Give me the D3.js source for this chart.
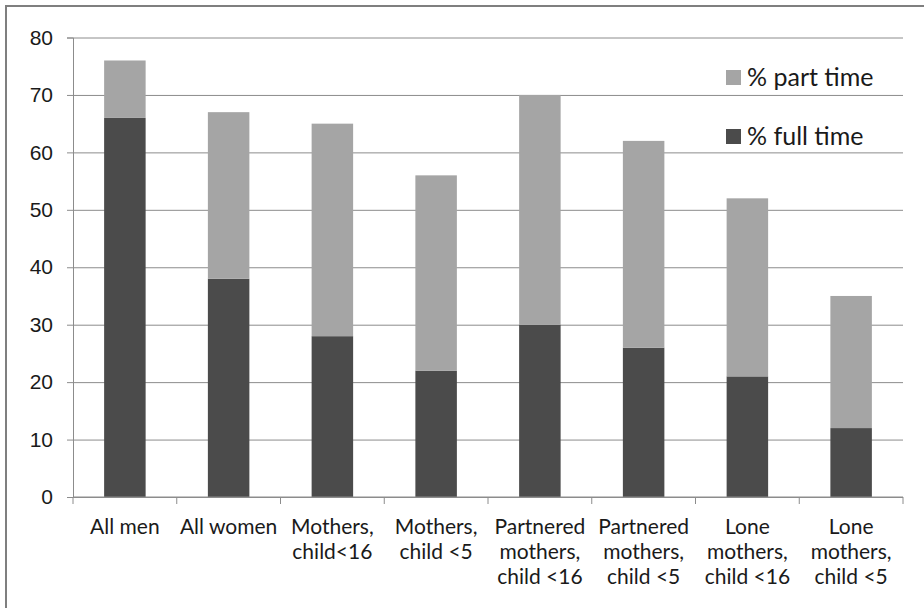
<!DOCTYPE html>
<html>
<head>
<meta charset="utf-8">
<script src="https://cdn.jsdelivr.net/npm/d3@7"></script>
<style>
  body { margin: 0; background: #fff; }
  svg { font-family: Lato, "Open Sans", sans-serif; }
</style>
</head>
<body>
<div id="chart"></div>
<script>
const categories = [
  ["All men"],
  ["All women"],
  ["Mothers,", "child<16"],
  ["Mothers,", "child <5"],
  ["Partnered", "mothers,", "child <16"],
  ["Partnered", "mothers,", "child <5"],
  ["Lone", "mothers,", "child <16"],
  ["Lone", "mothers,", "child <5"]
];
const fullTime = [66, 38, 28, 22, 30, 26, 21, 12];
const partTime = [10, 29, 37, 34, 40, 36, 31, 23];
const yTicks = [0, 10, 20, 30, 40, 50, 60, 70, 80];
const seriesNames = ["% part time", "% full time"];
const colors = { part: "#a5a5a5", full: "#4b4b4b" };

const width = 924, height = 608;
const margin = { top: 37.5, right: 21, bottom: 111, left: 73 };

const svg = d3.select("#chart").append("svg")
  .attr("width", width)
  .attr("height", height)
  .attr("viewBox", [0, 0, width, height]);

// outer frame
svg.append("rect")
  .attr("x", 6).attr("y", 6)
  .attr("width", width + 10).attr("height", height + 10)
  .attr("fill", "none")
  .attr("stroke", "#7f7f7f")
  .attr("stroke-width", 2);

const idx = d3.range(categories.length);

const x = d3.scaleBand()
  .domain(idx)
  .range([margin.left, width - margin.right])
  .paddingInner(0.6)
  .paddingOuter(0.3);

const xTick = d3.scaleBand()
  .domain(idx)
  .range([margin.left, width - margin.right])
  .padding(0);

const y = d3.scaleLinear()
  .domain([0, 80])
  .range([height - margin.bottom, margin.top]);

// gridlines + y ticks
const yAxis = g => g
  .attr("transform", `translate(${margin.left},0)`)
  .call(d3.axisLeft(y).tickValues(yTicks).tickSize(6).tickPadding(14))
  .call(g => g.select(".domain").attr("stroke", "#8c8c8c"))
  .call(g => g.selectAll(".tick line").attr("stroke", "#8c8c8c"))
  .call(g => g.selectAll(".tick").append("line")
      .attr("x2", width - margin.right - margin.left)
      .attr("stroke", "#8c8c8c"))
  .call(g => g.selectAll(".tick text")
      .attr("fill", "#1a1a1a")
      .style("font-size", "21px"));

svg.append("g").call(yAxis);

// stacked bars
const bars = svg.append("g");
bars.selectAll("rect.full")
  .data(idx)
  .join("rect")
  .attr("class", "full")
  .attr("x", i => x(i))
  .attr("width", x.bandwidth())
  .attr("y", i => y(fullTime[i]))
  .attr("height", i => y(0) - y(fullTime[i]))
  .attr("fill", colors.full);

bars.selectAll("rect.part")
  .data(idx)
  .join("rect")
  .attr("class", "part")
  .attr("x", i => x(i))
  .attr("width", x.bandwidth())
  .attr("y", i => y(fullTime[i] + partTime[i]))
  .attr("height", i => y(fullTime[i]) - y(fullTime[i] + partTime[i]))
  .attr("fill", colors.part);

// x axis
const xg = svg.append("g")
  .attr("transform", `translate(0,${y(0)})`);
xg.append("line")
  .attr("x1", margin.left).attr("x2", width - margin.right)
  .attr("stroke", "#8c8c8c");
xg.selectAll("line.tick")
  .data(idx.concat([categories.length]))
  .join("line")
  .attr("class", "tick")
  .attr("x1", i => i < categories.length ? xTick(i) : xTick.range()[1])
  .attr("x2", i => i < categories.length ? xTick(i) : xTick.range()[1])
  .attr("y2", 7)
  .attr("stroke", "#8c8c8c");

const labels = xg.selectAll("text.cat")
  .data(idx)
  .join("text")
  .attr("class", "cat")
  .attr("x", i => xTick(i) + xTick.bandwidth() / 2)
  .attr("y", 37)
  .attr("text-anchor", "middle")
  .attr("fill", "#1a1a1a")
  .style("font-size", "21px");
labels.selectAll("tspan")
  .data(i => categories[i])
  .join("tspan")
  .attr("x", function () { return d3.select(this.parentNode).attr("x"); })
  .attr("dy", (d, j) => j === 0 ? 0 : 25)
  .text(d => d);

// legend
const legend = svg.append("g");
const legendY = [77, 136];
const legendCol = [colors.part, colors.full];
seriesNames.forEach((name, i) => {
  legend.append("rect")
    .attr("x", 726).attr("y", legendY[i] - 7)
    .attr("width", 15).attr("height", 15)
    .attr("fill", legendCol[i]);
  legend.append("text")
    .attr("x", 747).attr("y", legendY[i])
    .attr("dy", "0.35em")
    .attr("fill", "#1a1a1a")
    .style("font-size", "25px")
    .text(name);
});
</script>
</body>
</html>
